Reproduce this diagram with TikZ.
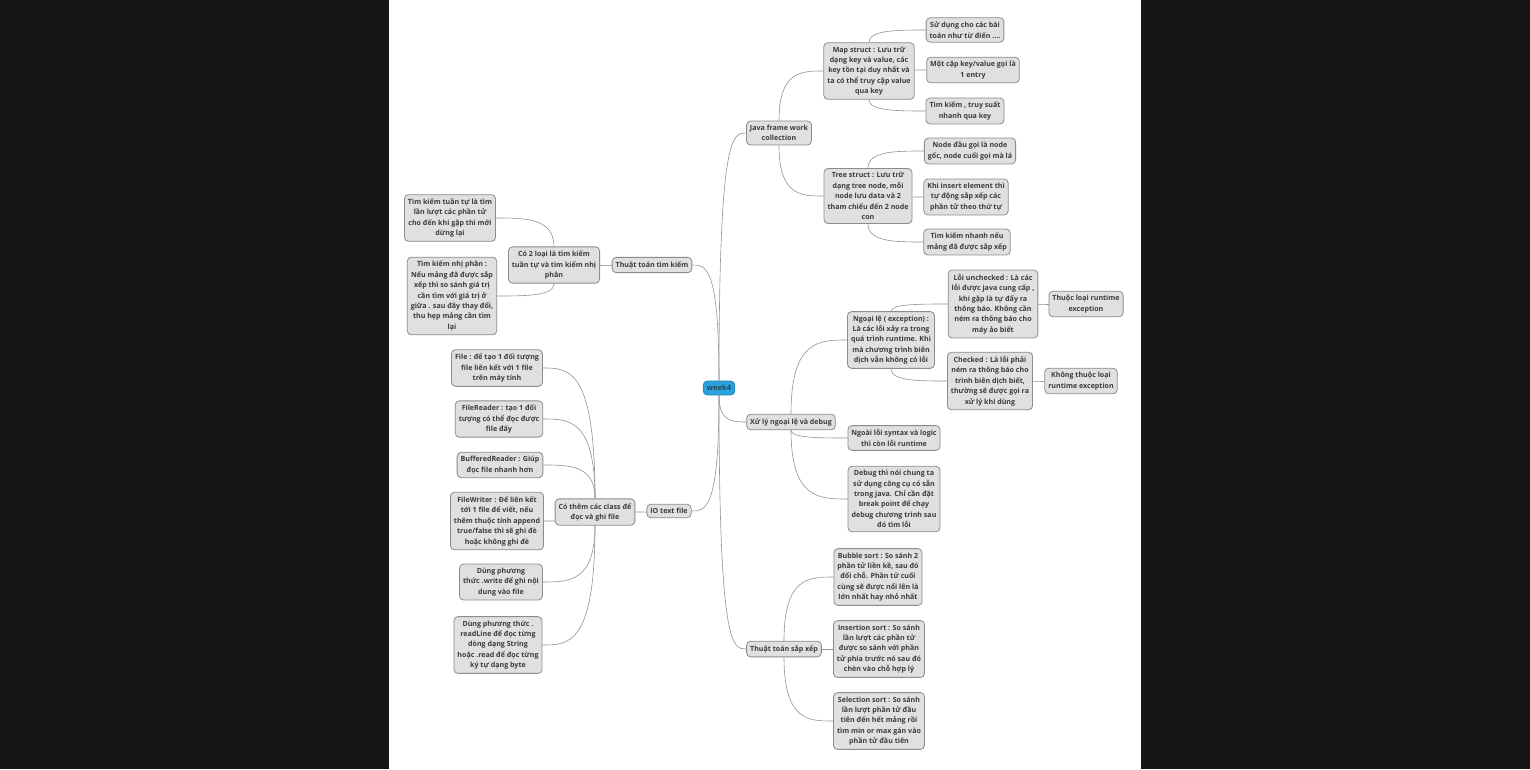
\documentclass[tikz,border=0pt]{standalone}
\usepackage{fontspec}
\setmainfont{Open Sans}
\usetikzlibrary{backgrounds,calc}

\definecolor{boxfill}{HTML}{E0E0E0}
\definecolor{boxline}{HTML}{8C8C8C}
\definecolor{boxtext}{HTML}{3C3C3C}
\definecolor{linkgray}{HTML}{939393}
\definecolor{rootfill}{HTML}{2AA3DC}
\definecolor{rootline}{HTML}{1E86B8}
\definecolor{rootext}{HTML}{24465A}
\definecolor{screen}{HTML}{151515}

\tikzset{
	topic/.style={draw=boxline,
		fill=boxfill,
		rounded corners=4pt,
		line width=0.8pt,
		align=center,
		inner xsep=3.5pt,
		inner ysep=4pt,
		text=boxtext,
		font=\fontsize{7.1}{10.4}\selectfont\bfseries},
	root/.style={topic,
		draw=rootline,
		fill=rootfill,
		text=rootext,
		font=\fontsize{7.6}{10.4}\selectfont\bfseries},
	link/.style={draw=linkgray,
		line width=0.6pt},
	bendto/.style={to path={.. controls (\tikztostart |- \tikztotarget) and ($(\tikztostart |- \tikztotarget)!0.5!(\tikztotarget)$) .. (\tikztotarget)}}
}

\begin{document}
\begin{tikzpicture}[x=1pt,y=-1pt]

\useasboundingbox (0,0) rectangle (1530,769);

% Center
\node [root] (week) at (719,388) {week4};

% Java frame work collection
\node [topic] (java) at (779,133) {Java frame work\\collection};
\node [topic] (mapst) at (869,71) {Map struct : Lưu trữ\\dạng key và value, các\\key tồn tại duy nhất và\\ta có thể truy cập value\\qua key};
\node [topic] (map1) at (965,30) {Sử dụng cho các bài\\toán như từ điển ....};
\node [topic] (map2) at (973,70) {Một cặp key/value gọi là\\1 entry};
\node [topic] (map3) at (965,111) {Tìm kiếm , truy suất\\nhanh qua key};
\node [topic] (treest) at (868,196) {Tree struct : Lưu trữ\\dạng tree node, mỗi\\node lưu data và 2\\tham chiếu đến 2 node\\con};
\node [topic] (tree1) at (970,151) {Node đầu gọi là node\\gốc, node cuối gọi mà lá};
\node [topic] (tree2) at (966,197) {Khi insert element thì\\tự động sắp xếp các\\phần tử theo thứ tự};
\node [topic] (tree3) at (967,242) {Tìm kiếm nhanh nếu\\mảng đã được sắp xếp};

% Xu ly ngoai le va debug
\node [topic] (xuly) at (791,422) {Xử lý ngoại lệ và debug};
\node [topic] (ngoaile) at (891,340) {Ngoại lệ ( exception) :\\Là các lỗi xảy ra trong\\quá trình runtime. Khi\\mà chương trình biên\\dịch vẫn không có lỗi};
\node [topic] (unchk) at (993,304) {Lỗi unchecked : Là các\\lỗi được java cung cấp ,\\khi gặp là tự đẩy ra\\thông báo. Không cần\\ném ra thông báo cho\\máy ảo biết};
\node [topic] (unchkA) at (1086,304) {Thuộc loại runtime\\exception};
\node [topic] (chk) at (990,381) {Checked :  Là lỗi phải\\ném ra thông báo cho\\trình biên dịch biết,\\thường sẽ được gọi ra\\xử lý khi dùng};
\node [topic] (chkA) at (1081,381) {Không thuộc loại\\runtime exception};
\node [topic] (syntax) at (894,438) {Ngoài lỗi syntax và logic\\thì còn lỗi runtime};
\node [topic] (debug) at (894,499) {Debug thì nói chung ta\\sử dụng công cụ có sẵn\\trong java. Chỉ cần đặt\\break point để chạy\\debug chương trình sau\\đó tìm lỗi};

% Thuat toan sap xep
\node [topic] (sapxep) at (784,649) {Thuật toán sắp xếp};
\node [topic] (bubble) at (878,577) {Bubble sort : So sánh 2\\phần tử liền kề, sau đó\\đổi chỗ. Phần tử cuối\\cùng sẽ được nổi lên là\\lớn nhất hay nhỏ nhất};
\node [topic] (insertion) at (879,649) {Insertion sort : So sánh\\lần lượt các phần tử\\được so sánh với phần\\tử phía trước nó sau đó\\chèn vào chỗ hợp lý};
\node [topic] (selection) at (879,721) {Selection sort : So sánh\\lần lượt phần tử đầu\\tiên đến hết mảng rồi\\tìm min or max gán vào\\phần tử đầu tiên};

% Thuat toan tim kiem
\node [topic] (timkiem) at (652,265) {Thuật toán tìm kiếm};
\node [topic] (hailoai) at (554,265) {Có 2 loại là tìm kiếm\\tuần tự và tìm kiếm nhị\\phân};
\node [topic] (tuantu) at (450,218) {Tìm kiếm tuần tự là tìm\\lần lượt các phần tử\\cho đến khi gặp thì mới\\dừng lại};
\node [topic] (nhiphan) at (452,296) {Tìm kiếm nhị phân :\\Nếu mảng đã được sắp\\xếp thì so sánh giá trị\\cần tìm với giá trị ở\\giữa . sau đây thay đổi,\\thu hẹp mảng cần tìm\\lại};

% IO text file
\node [topic] (iofile) at (669,511) {IO text file};
\node [topic] (classes) at (595,512) {Có thêm các class để\\đọc và ghi file};
\node [topic] (fileA) at (497,368) {File : để tạo 1 đối tượng\\file liên kết với 1 file\\trên máy tính};
\node [topic] (freader) at (499,419) {FileReader : tạo 1 đối\\tượng có thể đọc được\\file đấy};
\node [topic] (breader) at (500,465) {BufferedReader : Giúp\\đọc file nhanh hơn};
\node [topic] (fwriter) at (497,521) {FileWriter : Để liên kết\\tới 1 file để viết, nếu\\thêm thuộc tính append\\true/false thì sẽ ghi đè\\hoặc không ghi đè};
\node [topic] (write) at (501,582) {Dùng phương\\thức .write để ghi nội\\dung vào file};
\node [topic] (readline) at (498,645) {Dùng phương thức .\\readLine để đọc từng\\dòng dạng String\\hoặc .read để đọc từng\\ký tự dạng byte};

\begin{scope}[on background layer]
% screen and page
\fill [screen] (0,0) rectangle (1530,769);
\fill [white] (389,0) rectangle (1141,769);

% links, right side
\foreach \from/\to in {week/java, week/xuly, week/sapxep,
	java/mapst, java/treest,
	mapst/map1, mapst/map2, mapst/map3,
	treest/tree1, treest/tree2, treest/tree3,
	xuly/ngoaile, xuly/syntax, xuly/debug,
	ngoaile/unchk, ngoaile/chk, unchk/unchkA, chk/chkA,
	sapxep/bubble, sapxep/insertion, sapxep/selection}
	\draw [link] (\from) to[bendto] (\to.west);

% links, left side
\foreach \from/\to in {week/timkiem, week/iofile,
	timkiem/hailoai, hailoai/tuantu, hailoai/nhiphan,
	iofile/classes, classes/fileA, classes/freader, classes/breader,
	classes/fwriter, classes/write, classes/readline}
	\draw [link] (\from) to[bendto] (\to.east);
\end{scope}

\end{tikzpicture}
\end{document}
